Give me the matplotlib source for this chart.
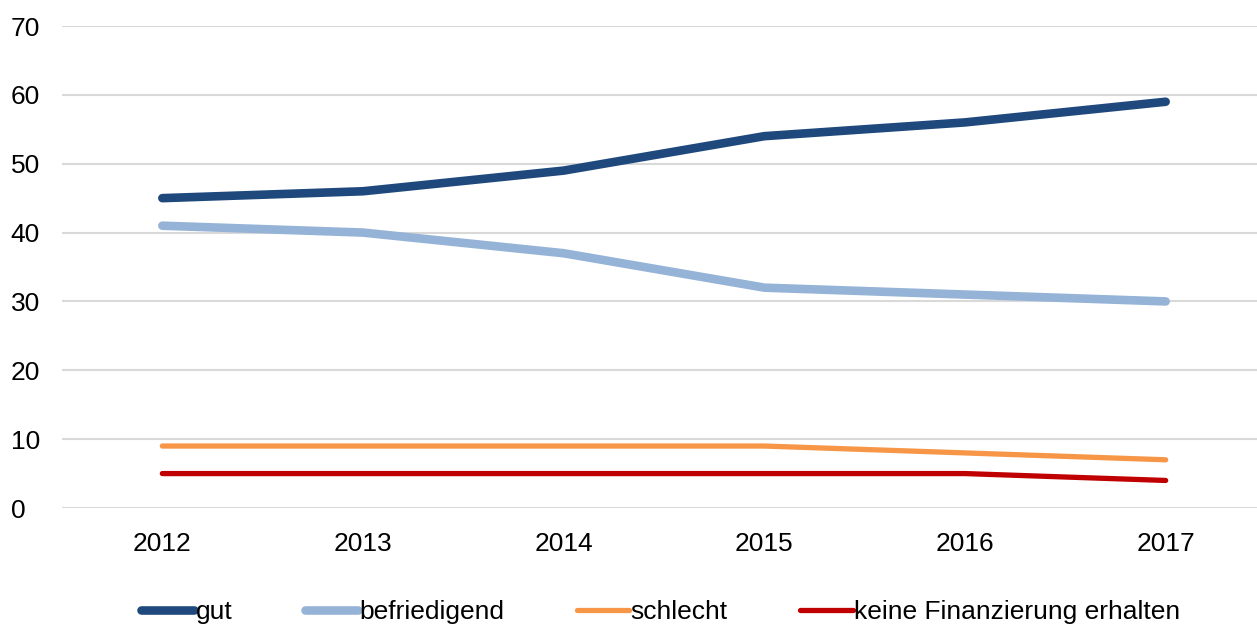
import matplotlib
matplotlib.use("Agg")
import matplotlib.pyplot as plt

years = ["2012", "2013", "2014", "2015", "2016", "2017"]
gut = [45, 46, 49, 54, 56, 59]
befriedigend = [41, 40, 37, 32, 31, 30]
schlecht = [9, 9, 9, 9, 8, 7]
keine = [5, 5, 5, 5, 5, 4]
labels = ["gut", "befriedigend", "schlecht", "keine Finanzierung erhalten"]
colors = ["#1F497D", "#95B3D7", "#F79646", "#C00000"]
widths = [6.2, 6.2, 3.8, 3.8]
yticks = [0, 10, 20, 30, 40, 50, 60, 70]

plt.rcParams['font.family'] = ['Liberation Sans', 'DejaVu Sans']

W, H = 1257, 627
fig = plt.figure(figsize=(W / 100, H / 100), dpi=100)
left, right = 62, 1266
top, bottom = 26, 508
ax = fig.add_axes([left / W, 1 - bottom / H, (right - left) / W, (bottom - top) / H])

x = list(range(len(years)))
handles = []
for series, lab, c, lw in zip([gut, befriedigend, schlecht, keine], labels, colors, widths):
    h, = ax.plot(x, series, color=c, lw=lw, solid_capstyle='round', solid_joinstyle='round',
                 label=lab, zorder=3)
    handles.append(h)

ax.set_xlim(-0.5, 5.5)
ax.set_ylim(0, 70)
ax.set_yticks(yticks)
ax.set_xticks(x)
ax.set_xticklabels(years)
ax.grid(axis='y', color='#D9D9D9', lw=1.5)
ax.set_axisbelow(True)
for s in ax.spines.values():
    s.set_visible(False)
ax.tick_params(axis='both', length=0, labelsize=19, colors='black')
ax.tick_params(axis='x', pad=17)
for lbl in ax.get_yticklabels():
    lbl.set_horizontalalignment('left')
ax.tick_params(axis='y', pad=37)

leg = fig.legend(handles=handles, labels=labels, loc='center', bbox_to_anchor=(661 / W, 1 - 612 / H),
                 ncol=4, frameon=False, prop={'size': 19},
                 handlelength=2.0, handletextpad=0.05, columnspacing=2.75, borderaxespad=0)

fig.savefig("out.png", dpi=100)
